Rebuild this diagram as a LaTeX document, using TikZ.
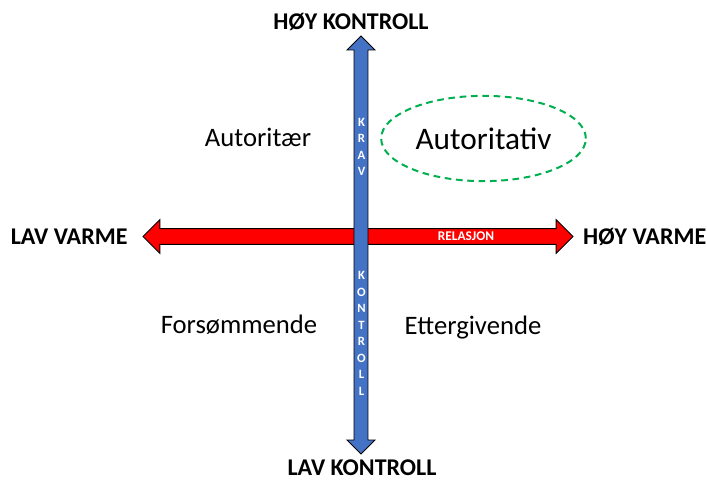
\documentclass[tikz,border=0pt]{standalone}
\usepackage{fontspec}
\setmainfont{Carlito}
\usetikzlibrary{shapes.arrows, shapes.geometric, positioning}

\definecolor{aksblaa}{HTML}{4472C4}
\definecolor{grenn}{HTML}{00B050}

\tikzset{
  akse/.style={double arrow, draw=black, line width=0.6pt, inner sep=0pt,
    double arrow tip angle=90},
  ytre/.style={inner sep=1pt, font=\fontsize{18}{20}\selectfont\bfseries},
  stil/.style={font=\fontsize{20}{22}\selectfont},
  bokstav/.style={text=white, align=center,
    font=\fontsize{9.5}{12.4}\selectfont\bfseries},
}

\begin{document}
\begin{tikzpicture}[x=0.75pt, y=-0.75pt]
   \useasboundingbox (0,0) rectangle (707,481);

   % relasjon (horisontal akse)
   \node[akse, fill=red, minimum height=322.5pt, inner ysep=5.6pt,
         double arrow head extend=6.75pt] (rel) at (358,236.5) {};
   \node[text=white, font=\fontsize{10}{10}\selectfont\bfseries] (reltxt) at (466,236.5) {RELASJON};

   % krav/kontroll (vertikal akse)
   \node[akse, fill=aksblaa, rotate=90, minimum height=313.5pt, inner ysep=4.9pt,
         double arrow head extend=5.25pt] (krav) at (361,245) {};
   \node[bokstav] (kravtxt) at (361.5,147) {K\\R\\A\\V};
   \node[bokstav] (kontxt) at (361.5,333.5) {K\\O\\N\\T\\R\\O\\L\\L};

   % endepunkter
   \node[ytre] (hoyk) at (351,22) {HØY KONTROLL};
   \node[ytre] (lavk) at (362,468) {LAV KONTROLL};
   \node[ytre, left=10pt of rel.west] (lavv) {LAV VARME};
   \node[ytre, right=6pt of rel.east] (hoyv) {HØY VARME};

   % stiler
   \node[stil] (autoritaer) at (258,137) {Autoritær};
   \node[ellipse, draw=grenn, dashed, line width=1.5pt,
         dash pattern=on 5pt off 3.5pt, minimum width=146pt, minimum height=64pt,
         font=\fontsize{23.5}{26}\selectfont] (autoritativ) at (483.5,138.5) {Autoritativ};
   \node[stil] (forsommende) at (239,325) {Forsømmende};
   \node[stil] (ettergivende) at (473,328) {Ettergivende};

\end{tikzpicture}
\end{document}
